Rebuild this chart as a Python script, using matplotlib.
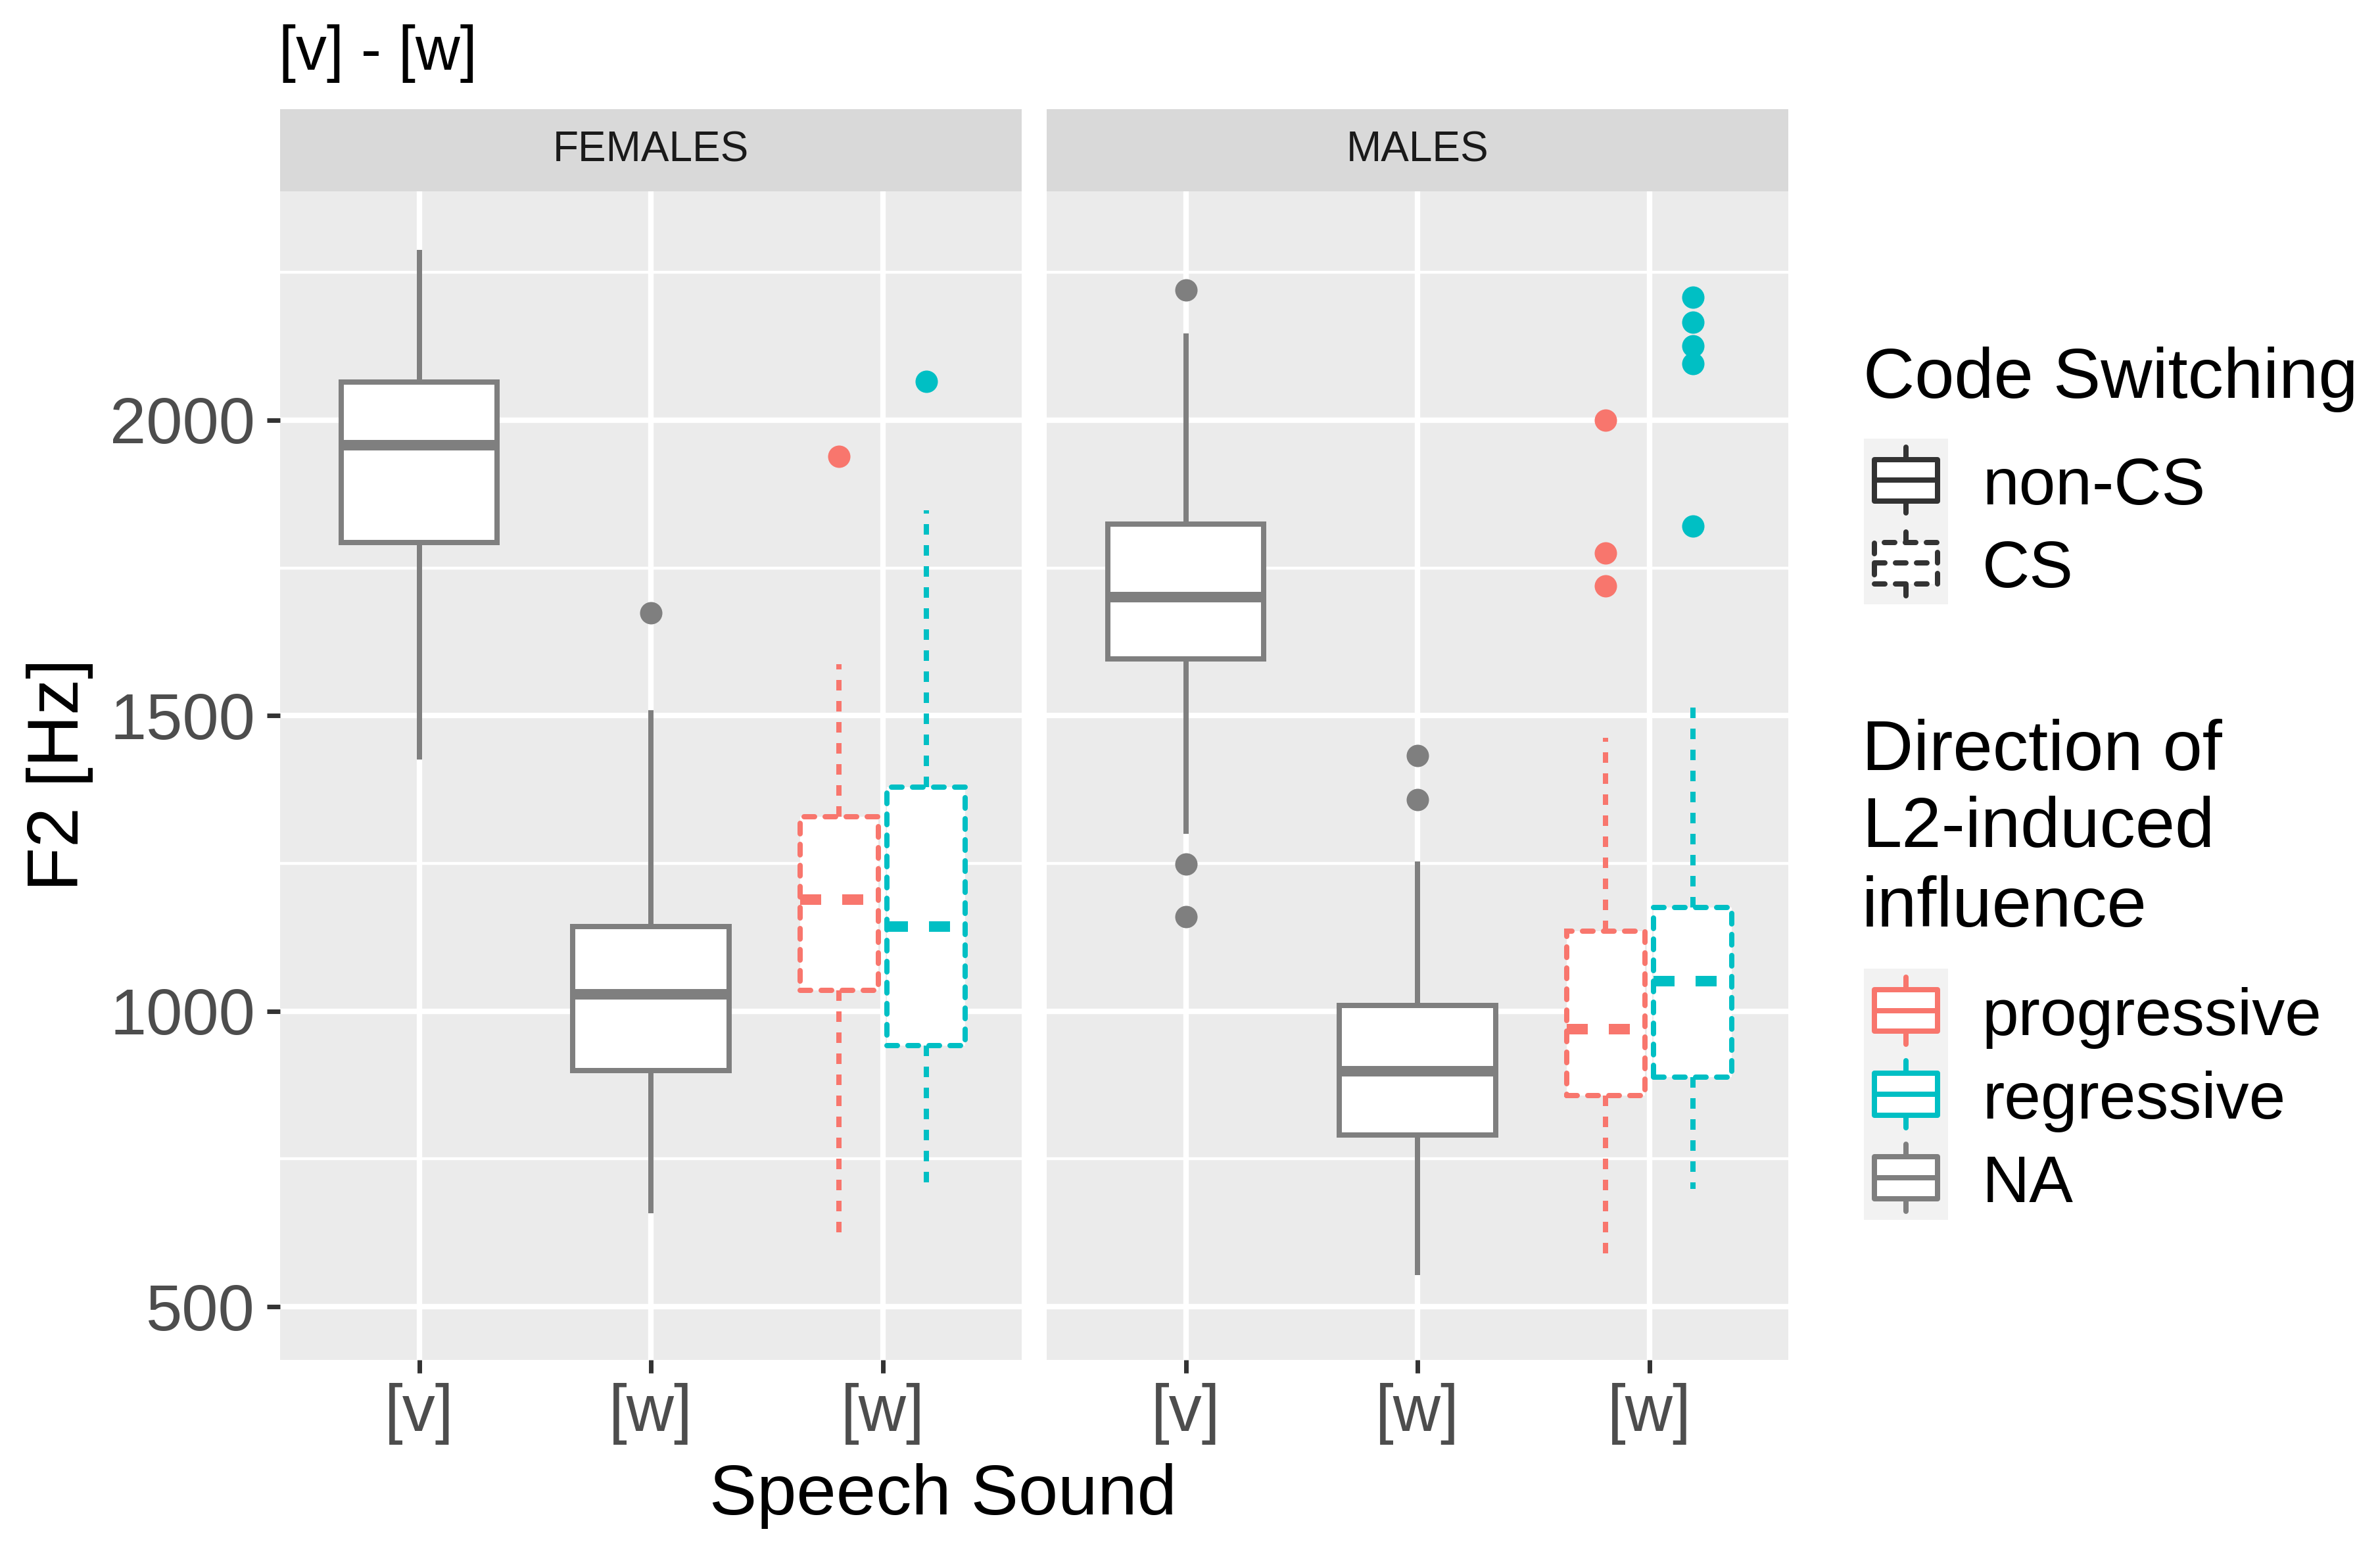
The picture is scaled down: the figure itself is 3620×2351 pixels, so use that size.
import matplotlib
matplotlib.use("Agg")
import matplotlib.pyplot as plt
from matplotlib.patches import Rectangle
from matplotlib.lines import Line2D

plt.rcParams['font.family'] = ['Liberation Sans', 'DejaVu Sans']

W, H = 3620, 2351
DPI = 100

# ---------------- data ----------------
panels = ["FEMALES", "MALES"]
categories = ["[v]", "[w]", "[w]"]
directions = ["progressive", "regressive", "NA"]
cs_levels = ["non-CS", "CS"]
yticks = [500, 1000, 1500, 2000]

# five-number summaries: (lower whisker, Q1, median, Q3, upper whisker)
fem_v_nonCS = [1426, 1793, 1957, 2064, 2288]
fem_v_nonCS_out = []
fem_w_nonCS = [658, 900, 1029, 1143, 1509]
fem_w_nonCS_out = [1674]
fem_w_CS_prog = [618, 1035, 1189, 1329, 1587]
fem_w_CS_prog_out = [1939]
fem_w_CS_reg = [694, 942, 1143, 1379, 1847]
fem_w_CS_reg_out = [2065]

mal_v_nonCS = [1300, 1596, 1701, 1824, 2147]
mal_v_nonCS_out = [2220, 1249, 1160]
mal_w_nonCS = [554, 790, 898, 1010, 1253]
mal_w_nonCS_out = [1432, 1358]
mal_w_CS_prog = [574, 857, 970, 1135, 1463]
mal_w_CS_prog_out = [2000, 1775, 1720]
mal_w_CS_reg = [699, 888, 1051, 1175, 1526]
mal_w_CS_reg_out = [2208, 2166, 2125, 2096, 1821]

# (category index, stats, outliers, direction, cs)
panel_boxes = {
    "FEMALES": [
        (0, fem_v_nonCS, fem_v_nonCS_out, "NA", "non-CS"),
        (1, fem_w_nonCS, fem_w_nonCS_out, "NA", "non-CS"),
        (2, fem_w_CS_prog, fem_w_CS_prog_out, "progressive", "CS"),
        (2, fem_w_CS_reg, fem_w_CS_reg_out, "regressive", "CS"),
    ],
    "MALES": [
        (0, mal_v_nonCS, mal_v_nonCS_out, "NA", "non-CS"),
        (1, mal_w_nonCS, mal_w_nonCS_out, "NA", "non-CS"),
        (2, mal_w_CS_prog, mal_w_CS_prog_out, "progressive", "CS"),
        (2, mal_w_CS_reg, mal_w_CS_reg_out, "regressive", "CS"),
    ],
}

# ---------------- style ----------------
colors = {"NA": "#7F7F7F", "progressive": "#F8766D", "regressive": "#00BFC4"}
LW = 5.76
DASH = (0, (2, 2))
PANEL_BG = "#EBEBEB"
STRIP_BG = "#D9D9D9"
TICK_COL = "#4D4D4D"

fig = plt.figure(figsize=(W / DPI, H / DPI), dpi=DPI)
fig.patch.set_facecolor("white")


def fx(x):
    return x / W


def fy(y):
    return 1 - y / H


panel_left = [426, 1592]
panel_w = 1128
panel_top, panel_bot = 291, 2068
strip_top = 166

for pi, pname in enumerate(panels):
    ax = fig.add_axes([fx(panel_left[pi]), fy(panel_bot), panel_w / W, (panel_bot - panel_top) / H])
    ax.set_facecolor(PANEL_BG)
    ax.set_xlim(0.4, 3.6)
    ax.set_ylim(410, 2387)
    for s in ax.spines.values():
        s.set_visible(False)
    ax.set_axisbelow(True)
    ax.set_xticks([1, 2, 3])
    ax.set_xticklabels(categories)
    ax.set_yticks(yticks)
    ax.set_yticks([750, 1250, 1750, 2250], minor=True)
    ax.grid(which="major", color="white", linewidth=6.0)
    ax.grid(which="minor", axis="y", color="white", linewidth=3.2)
    ax.tick_params(which="minor", length=0)
    ax.tick_params(axis="x", which="major", length=14.4, width=5, color="#333333",
                   labelsize=72, labelcolor=TICK_COL, pad=11)
    if pi == 0:
        ax.tick_params(axis="y", which="major", length=14.4, width=5, color="#333333",
                       labelsize=71.5, labelcolor=TICK_COL, pad=13)
    else:
        ax.tick_params(axis="y", which="major", left=False, labelleft=False)

    for (ci, st, outs, direc, cs) in panel_boxes[pname]:
        col = colors[direc]
        if cs == "CS":
            pos = ci + 1 + (-0.1875 if direc == "progressive" else 0.1875)
            wid = 0.3375
            ls = DASH
        else:
            pos = ci + 1
            wid = 0.675
            ls = "-"
        stats = [dict(whislo=st[0], q1=st[1], med=st[2], q3=st[3], whishi=st[4], fliers=outs)]
        ax.bxp(stats, positions=[pos], widths=[wid], patch_artist=True, showcaps=False,
               showfliers=True, manage_ticks=False,
               boxprops=dict(facecolor="white", edgecolor=col, linewidth=LW, linestyle=ls,
                             joinstyle="miter", capstyle="round"),
               whiskerprops=dict(color=col, linewidth=LW, linestyle=ls,
                                 solid_capstyle="butt", dash_capstyle="butt"),
               medianprops=dict(color=col, linewidth=LW * 2, linestyle=ls,
                                solid_capstyle="butt", dash_capstyle="butt"),
               flierprops=dict(marker="o", markerfacecolor=col, markeredgecolor="none",
                               markersize=24.5, linestyle="none"))

    sax = fig.add_axes([fx(panel_left[pi]), fy(panel_top), panel_w / W, (panel_top - strip_top) / H])
    sax.set_facecolor(STRIP_BG)
    sax.set_xticks([])
    sax.set_yticks([])
    for s in sax.spines.values():
        s.set_visible(False)
    sax.text(0.5, 0.5, pname, transform=sax.transAxes, ha="center", va="center",
             fontsize=46, color="#1A1A1A")

# titles
fig.text(fx(424), fy(82), "[v] - [w]", fontsize=67.5, ha="left", va="center", color="black")
fig.text(fx(1434), fy(2303), "Speech Sound", fontsize=78, ha="center", va="baseline", color="black")
fig.text(fx(91), fy(1178), "F2 [Hz]", fontsize=79, rotation=90, ha="center", va="center", color="black")

# ---------------- legends ----------------
KEY_X, KEY_W = 2835, 128
LAB_X = 3015


def draw_key(top, h, col, ls):
    kax = fig.add_axes([fx(KEY_X), fy(top + h), KEY_W / W, h / H])
    kax.set_facecolor("#F2F2F2")
    kax.set_xlim(0, 1)
    kax.set_ylim(0, 1)
    kax.set_xticks([])
    kax.set_yticks([])
    for s in kax.spines.values():
        s.set_visible(False)
    lk = dict(color=col, lw=LW, linestyle=ls, solid_capstyle="round", dash_capstyle="round")
    kax.add_line(Line2D([0.5, 0.5], [0.1, 0.25], **lk))
    kax.add_line(Line2D([0.5, 0.5], [0.75, 0.9], **lk))
    kax.add_patch(Rectangle((0.125, 0.25), 0.75, 0.5, facecolor="white", edgecolor=col, lw=LW,
                            linestyle=ls, joinstyle="round", capstyle="round"))
    kax.add_line(Line2D([0.125, 0.875], [0.5, 0.5], **lk))


fig.text(fx(2834), fy(605), "Code Switching", fontsize=78, ha="left", va="baseline", color="black")
cs_styles = {"non-CS": "-", "CS": DASH}
g1_top, kh1 = 667, 126
for i, lev in enumerate(cs_levels):
    draw_key(g1_top + i * kh1, kh1, "#333333", cs_styles[lev])
    fig.text(fx(LAB_X), fy(g1_top + i * kh1 + kh1 / 2 + 37), lev, fontsize=72,
             ha="left", va="baseline", color="black")

for txt, yb in zip(["Direction of", "L2-induced", "influence"], [1171, 1288, 1409]):
    fig.text(fx(2832), fy(yb), txt, fontsize=78, ha="left", va="baseline", color="black")
g2_top, kh2 = 1473, 127.3
for i, lev in enumerate(directions):
    draw_key(g2_top + i * kh2, kh2, colors[lev], "-")
    fig.text(fx(LAB_X), fy(g2_top + i * kh2 + kh2 / 2 + 37), lev, fontsize=72,
             ha="left", va="baseline", color="black")

fig.savefig("out.png", dpi=DPI, facecolor="white")
